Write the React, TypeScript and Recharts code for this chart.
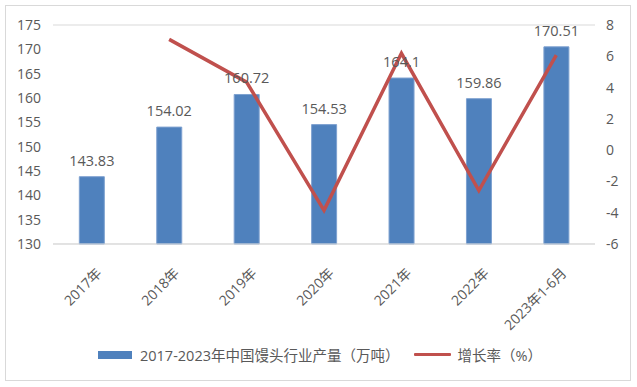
import React from "react";
import { ComposedChart, Bar, Line, XAxis, YAxis, CartesianGrid, Legend, LabelList } from "recharts";

const categories = ["2017年", "2018年", "2019年", "2020年", "2021年", "2022年", "2023年1-6月"];
const output = [143.83, 154.02, 160.72, 154.53, 164.1, 159.86, 170.51];
const growth: (number | null)[] = [null, 7.08, 4.35, -3.85, 6.19, -2.58, 6.08];
const leftTicks = [130, 135, 140, 145, 150, 155, 160, 165, 170, 175];
const rightTicks = [-6, -4, -2, 0, 2, 4, 6, 8];

const data = categories.map((c, i) => ({ name: c, output: output[i], growth: growth[i] }));

const FONT = '"Open Sans", "Noto Sans CJK SC", sans-serif';
const TXT = "#595959";

const LegendContent = () => (
  <div style={{ display: "flex", justifyContent: "center", alignItems: "center", fontFamily: FONT, fontSize: 14.5, color: TXT, paddingLeft: 4 }}>
    <span style={{ display: "inline-block", width: 34, height: 8, background: "#4F81BD", marginRight: 8 }} />
    <span>2017-2023年中国馒头行业产量（万吨）</span>
    <span style={{ display: "inline-block", width: 37, height: 3, background: "#C0504D", marginLeft: 14, marginRight: 7, borderRadius: 1 }} />
    <span>增长率（%）</span>
  </div>
);

export default function App() {
  return (
    <div style={{ position: "absolute", left: 5, top: 5, width: 626, height: 376, border: "1px solid #D9D9D9", boxSizing: "border-box", background: "#fff" }}>
      <ComposedChart width={624} height={374} data={data} margin={{ top: 19, right: 0, left: 0, bottom: 0 }} barCategoryGap="34%">
        <CartesianGrid vertical={false} stroke="#D9D9D9" strokeWidth={1} />
        <XAxis
          dataKey="name"
          height={115}
          interval={0}
          tickLine={false}
          axisLine={{ stroke: "#D9D9D9" }}
          angle={-45}
          textAnchor="end"
          tickMargin={17}
          tick={{ fill: TXT, fontSize: 14, fontFamily: FONT, dx: 4 }}
        />
        <YAxis
          yAxisId="left"
          width={47}
          domain={[130, 175]}
          ticks={leftTicks}
          interval={0}
          axisLine={false}
          tickLine={false}
          tickSize={0}
          tickMargin={12}
          tick={{ fill: TXT, fontSize: 14, fontFamily: FONT }}
        />
        <YAxis
          yAxisId="right"
          orientation="right"
          width={35}
          domain={[-6, 8]}
          ticks={rightTicks}
          interval={0}
          axisLine={false}
          tickLine={false}
          tickSize={0}
          tickMargin={11}
          tick={{ fill: TXT, fontSize: 14, fontFamily: FONT }}
        />
        <Legend content={<LegendContent />} wrapperStyle={{ position: "absolute", top: 338, left: 0, width: 624 }} />
        <Bar yAxisId="left" dataKey="output" fill="#4F81BD" stroke="#7EA1D0" strokeWidth={1} isAnimationActive={false}>
          <LabelList dataKey="output" position="top" offset={11} fill={TXT} fontSize={14.5} fontFamily={FONT} />
        </Bar>
        <Line yAxisId="right" dataKey="growth" stroke="#C0504D" strokeWidth={3.5} dot={false} activeDot={false} connectNulls={false} isAnimationActive={false} />
      </ComposedChart>
    </div>
  );
}
